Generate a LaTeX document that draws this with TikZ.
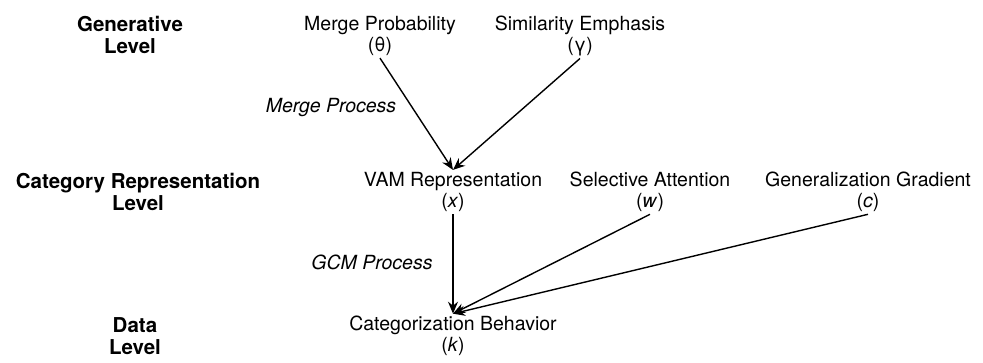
\documentclass[tikz,border=0pt]{standalone}
\usepackage{fontspec}
\setmainfont{TeX Gyre Heros}
\usetikzlibrary{arrows.meta}
\begin{document}
\begin{tikzpicture}[x=1pt,y=-1pt,
  lbl/.style={align=center,inner sep=2pt,font=\fontsize{19.5}{21.5}\selectfont},
  lvl/.style={align=center,inner sep=2pt,font=\fontsize{20.5}{22}\selectfont\bfseries},
  proc/.style={inner sep=0pt,font=\fontsize{19.5}{21}\selectfont\itshape},
  arr/.style={line width=1.4pt,-{Stealth[length=12pt,width=10pt,inset=4pt]}}]
\useasboundingbox (0,0) rectangle (983,362);
% level labels
\node[lvl] (gl) at (130,35) {Generative\\Level};
\node[lvl] (cl) at (138,192) {Category Representation\\Level};
\node[lvl] (dl) at (135,336) {Data\\Level};
% row 1
\node[lbl] (mp) at (380,36) {Merge Probability\\(θ)};
\node[lbl] (se) at (580,36) {Similarity Emphasis\\(γ)};
% row 2
\node[lbl] (vam) at (453,192) {VAM Representation\\(\textit{x})};
\node[lbl] (sa) at (650,192) {Selective Attention\\(\textit{w})};
\node[lbl] (gg) at (868,192) {Generalization Gradient\\(\textit{c})};
% row 3
\node[lbl] (cb) at (453,336) {Categorization Behavior\\(\textit{k})};
% process labels
\node[proc] (mproc) at (331,108) {Merge Process};
\node[proc] (gproc) at (372,262) {GCM Process};
% arrows
\draw[arr] (mp.south) -- (vam.north);
\draw[arr] (se.south) -- (vam.north);
\draw[arr] (vam.south) -- (cb.north);
\draw[arr] (sa.south) -- (cb.north);
\draw[arr] (gg.south) -- (cb.north);
\end{tikzpicture}
\end{document}
